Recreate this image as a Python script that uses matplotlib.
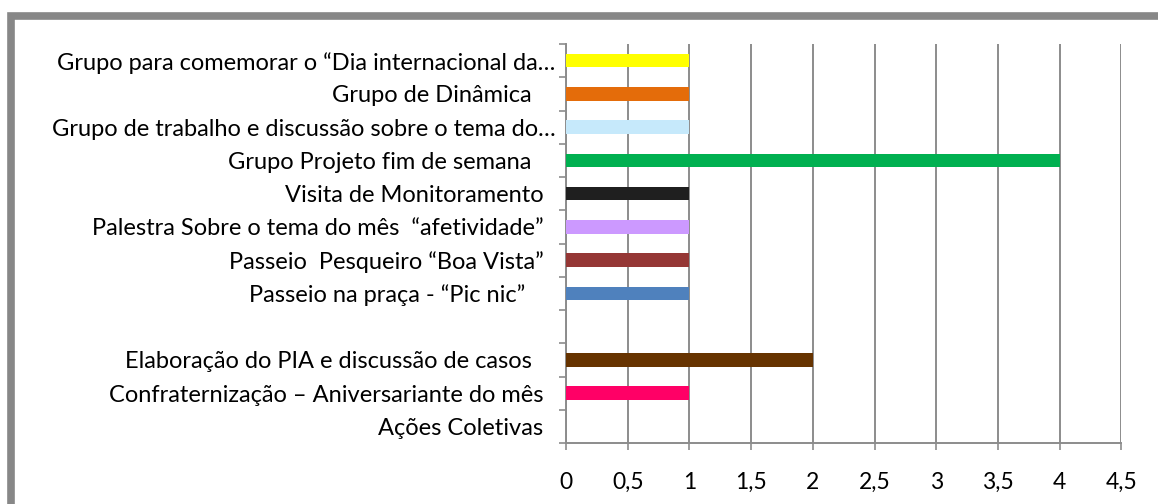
import numpy as np
import matplotlib.pyplot as plt
from matplotlib.patches import Rectangle

plt.rcParams['font.family'] = ['Lato', 'DejaVu Sans']

# categories from top to bottom
categories = [
    'Grupo para comemorar o “Dia internacional da…',
    'Grupo de Dinâmica    ',
    'Grupo de trabalho e discussão sobre o tema do…',
    'Grupo Projeto fim de semana    ',
    'Visita de Monitoramento  ',
    'Palestra Sobre o tema do mês  “afetividade”  ',
    'Passeio  Pesqueiro “Boa Vista”  ',
    'Passeio na praça - “Pic nic”     ',
    '',
    'Elaboração do PIA e discussão de casos    ',
    'Confraternização – Aniversariante do mês  ',
    'Ações Coletivas  ',
]
values = [1, 1, 1, 4, 1, 1, 1, 1, 0, 2, 1, 0]
colors = ['#FFFF00', '#E46C0A', '#C6E9FB', '#00B050', '#1F1F1F', '#CC99FF',
          '#953735', '#4F81BD', '#FFFFFF', '#663300', '#FF0066', '#FFFFFF']
xticks = [0, 0.5, 1, 1.5, 2, 2.5, 3, 3.5, 4, 4.5]
xticklabels = ['0', '0,5', '1', '1,5', '2', '2,5', '3', '3,5', '4', '4,5']

grid_color = '#8C8C8C'

fig = plt.figure(figsize=(11.58, 5.04), dpi=100)
ax = fig.add_axes([0.4888, 0.121, 0.4795, 0.7917])

pos = np.arange(len(categories))
ax.barh(pos, values, height=0.4, color=colors, zorder=3)

ax.set_xlim(0, 4.5)
ax.set_ylim(len(categories) - 0.5, -0.5)
ax.set_xticks(xticks)
ax.set_xticklabels(xticklabels, fontsize=16.5)
ax.set_yticks(pos)
ax.set_yticklabels(categories, fontsize=17)
ax.set_yticks(np.arange(len(categories) + 1) - 0.5, minor=True)

ax.tick_params(axis='y', which='major', length=0, pad=7.5)
ax.tick_params(axis='y', which='minor', length=5, width=1.2, color=grid_color)
ax.tick_params(axis='x', length=5, width=1.2, color=grid_color, pad=16)

ax.grid(axis='x', color=grid_color, linewidth=1.4, zorder=0)
ax.set_axisbelow(True)
for side in ['top', 'right']:
    ax.spines[side].set_visible(False)
for side in ['left', 'bottom']:
    ax.spines[side].set_color(grid_color)
    ax.spines[side].set_linewidth(1.4)

# outer gray frame of the chart area (cut off on right and bottom)
frame = Rectangle((11 / 1158, -0.2), 1.2, 1.2 - 16 / 504,
                  transform=fig.transFigure, fill=False,
                  edgecolor='#878787', linewidth=5.5, clip_on=False)
fig.patches.append(frame)

fig.savefig('out.png', dpi=100)
